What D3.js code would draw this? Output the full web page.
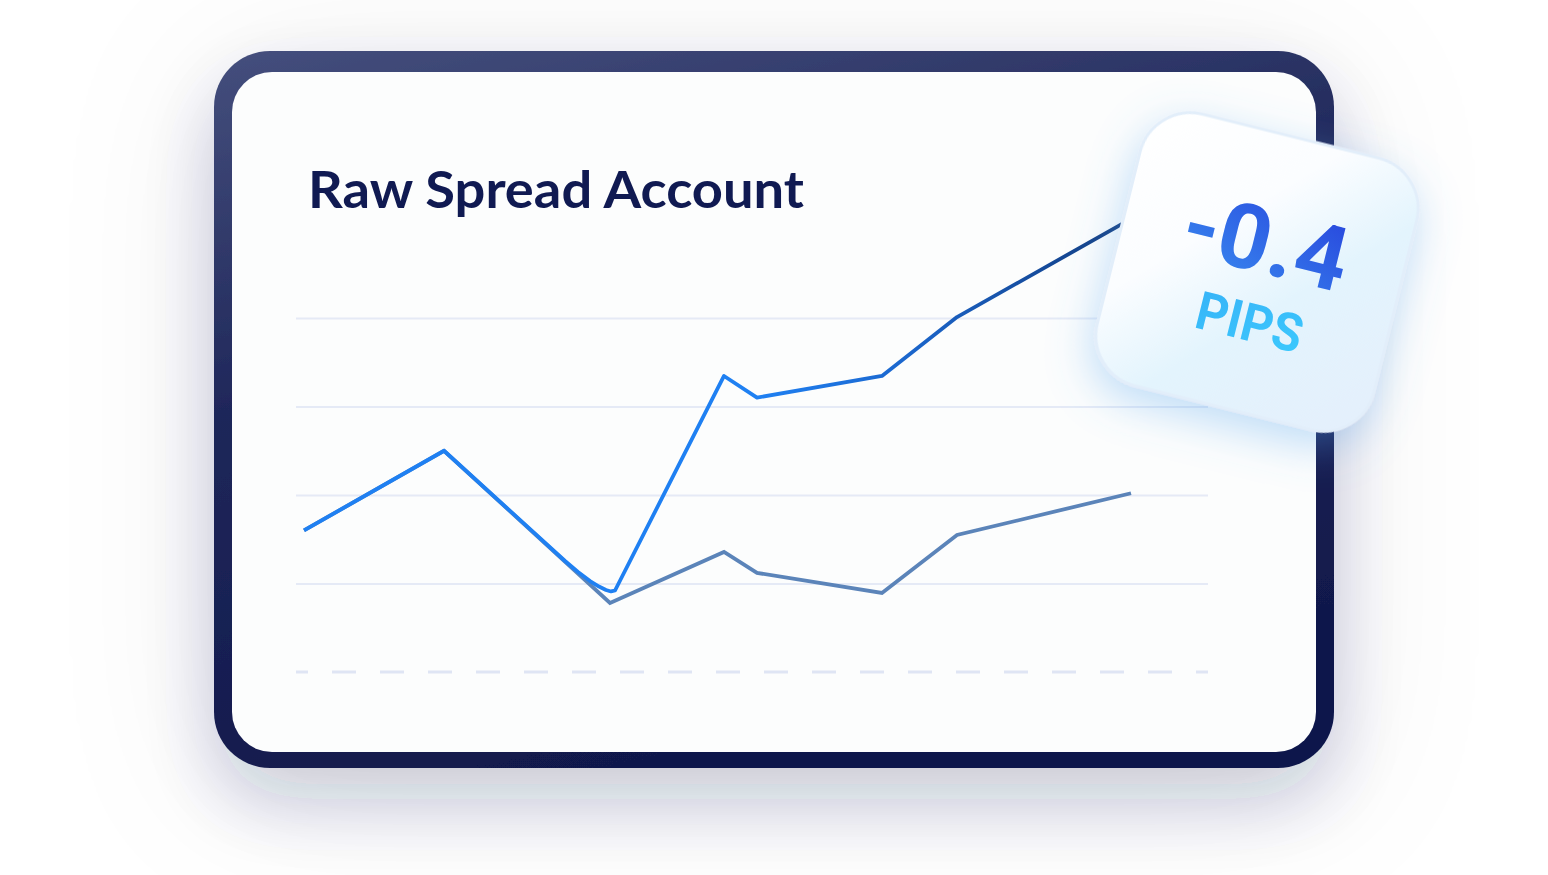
<!DOCTYPE html>
<html>
<head>
<meta charset="utf-8">
<script src="https://cdn.jsdelivr.net/npm/d3@7/dist/d3.min.js"></script>
<style>
  html, body { margin: 0; padding: 0; background: #ffffff; }
  svg { display: block; }
</style>
</head>
<body>
<svg id="chart" width="1548" height="875"></svg>
<script>
// ---------- data ----------
const titleText = "Raw Spread Account";
const badgeValue = "-0.4";
const badgeUnit = "PIPS";

// x positions (time units 0..100), y values (0..4 grid units)
const blueX = [0.88, 16.23, 29.50, 30.92, 32.24, 33.22, 33.99, 34.54, 34.98, 46.93, 50.55, 64.25, 72.48, 91.56];
const blueY = [1.60, 2.50, 1.254, 1.130, 1.028, 0.966, 0.927, 0.910, 0.921, 3.345, 3.10, 3.345, 4.01, 5.12];
const greyX = [0.88, 16.23, 34.43, 46.93, 50.55, 64.25, 72.48, 91.56];
const greyY = [1.60, 2.50, 0.78, 1.356, 1.12, 0.893, 1.548, 2.02];
const gridValues = [1, 2, 3, 4];
const baselineValue = 0;

// ---------- drawing ----------
const svg = d3.select("#chart");
const defs = svg.append("defs");

// frame shadow (manual, very diffuse)
const fs = defs.append("filter").attr("id", "frameShadow")
  .attr("filterUnits", "userSpaceOnUse")
  .attr("x", -200).attr("y", -200).attr("width", 1948).attr("height", 1300);
fs.append("feGaussianBlur").attr("in", "SourceAlpha").attr("stdDeviation", 38).attr("result", "b1");
fs.append("feOffset").attr("in", "b1").attr("dx", 0).attr("dy", 34).attr("result", "o1");
fs.append("feFlood").attr("flood-color", "#20255c").attr("flood-opacity", 0.2).attr("result", "c1");
fs.append("feComposite").attr("in", "c1").attr("in2", "o1").attr("operator", "in").attr("result", "s1");
fs.append("feGaussianBlur").attr("in", "SourceAlpha").attr("stdDeviation", 80).attr("result", "b2");
fs.append("feOffset").attr("in", "b2").attr("dx", 0).attr("dy", 20).attr("result", "o2");
fs.append("feFlood").attr("flood-color", "#20255c").attr("flood-opacity", 0.08).attr("result", "c2");
fs.append("feComposite").attr("in", "c2").attr("in2", "o2").attr("operator", "in").attr("result", "s2");
const fm = fs.append("feMerge");
fm.append("feMergeNode").attr("in", "s2");
fm.append("feMergeNode").attr("in", "s1");
fm.append("feMergeNode").attr("in", "SourceGraphic");

// frame gradient
const fg = defs.append("linearGradient").attr("id", "frameGrad")
  .attr("x1", 0).attr("y1", 0).attr("x2", 0.35).attr("y2", 1);
fg.append("stop").attr("offset", 0).attr("stop-color", "#454f7d");
fg.append("stop").attr("offset", 0.45).attr("stop-color", "#1f275a");
fg.append("stop").attr("offset", 1).attr("stop-color", "#11194c");

// blue line gradient
const bg = defs.append("linearGradient").attr("id", "blueGrad")
  .attr("gradientUnits", "userSpaceOnUse")
  .attr("x1", 760).attr("y1", 0).attr("x2", 1130).attr("y2", 0);
bg.append("stop").attr("offset", 0).attr("stop-color", "#1f80f2");
bg.append("stop").attr("offset", 0.4).attr("stop-color", "#1b66cc");
bg.append("stop").attr("offset", 1).attr("stop-color", "#123a7c");

// badge gradients & shadow
const bfill = defs.append("linearGradient").attr("id", "badgeFill")
  .attr("x1", 0).attr("y1", 0).attr("x2", 1).attr("y2", 1);
bfill.append("stop").attr("offset", 0).attr("stop-color", "#ffffff");
bfill.append("stop").attr("offset", 0.35).attr("stop-color", "#fbfdff");
bfill.append("stop").attr("offset", 0.6).attr("stop-color", "#e3f4fd");
bfill.append("stop").attr("offset", 1).attr("stop-color", "#e4effc");

const bsh = defs.append("filter").attr("id", "badgeShadow")
  .attr("x", "-40%").attr("y", "-40%").attr("width", "180%").attr("height", "190%");
bsh.append("feDropShadow").attr("dx", 0).attr("dy", 14).attr("stdDeviation", 22)
  .attr("flood-color", "#5aa8ee").attr("flood-opacity", 0.38);

const numGrad = defs.append("linearGradient").attr("id", "numGrad")
  .attr("x1", 0).attr("y1", 1).attr("x2", 0.6).attr("y2", 0);
numGrad.append("stop").attr("offset", 0).attr("stop-color", "#3a8ff1");
numGrad.append("stop").attr("offset", 1).attr("stop-color", "#2a4edf");

const unitGrad = defs.append("linearGradient").attr("id", "unitGrad")
  .attr("x1", 0).attr("y1", 0).attr("x2", 1).attr("y2", 1);
unitGrad.append("stop").attr("offset", 0).attr("stop-color", "#37b2f7");
unitGrad.append("stop").attr("offset", 1).attr("stop-color", "#3ccbfe");

// ---------- frame ----------
svg.append("rect")
  .attr("x", 214).attr("y", 51).attr("width", 1120).attr("height", 717)
  .attr("rx", 56).attr("ry", 56)
  .attr("fill", "url(#frameGrad)")
  .attr("filter", "url(#frameShadow)");
svg.append("rect")
  .attr("x", 232).attr("y", 72).attr("width", 1084).attr("height", 680)
  .attr("rx", 40).attr("ry", 40)
  .attr("fill", "#fcfdfd");

// title
svg.append("text")
  .attr("x", 308).attr("y", 208)
  .attr("font-family", "Lato, 'Open Sans', sans-serif")
  .attr("font-weight", 700)
  .attr("font-size", 51)
  .attr("fill", "#101a52")
  .attr("textLength", 496)
  .attr("lengthAdjust", "spacingAndGlyphs")
  .text(titleText);

// ---------- scales ----------
const x = d3.scaleLinear().domain([0, 100]).range([296, 1208]);
const y = d3.scaleLinear().domain([0, 4]).range([672, 318]);

// gridlines via axis
const gridAxis = d3.axisLeft(y).tickValues(gridValues).tickSize(-(x.range()[1] - x.range()[0])).tickFormat("");
const gridG = svg.append("g").attr("transform", `translate(${x.range()[0]},0)`).call(gridAxis);
gridG.select(".domain").remove();
gridG.selectAll(".tick line").attr("stroke", "#e5eaf6").attr("stroke-width", 2);

// dashed baseline
svg.append("line")
  .attr("x1", x.range()[0]).attr("x2", x.range()[1])
  .attr("y1", y(baselineValue)).attr("y2", y(baselineValue))
  .attr("stroke", "#dfe5f4").attr("stroke-width", 3)
  .attr("stroke-dasharray", "24 24").attr("stroke-dashoffset", 12);

// lines
const line = d3.line().x(d => x(d[0])).y(d => y(d[1])).curve(d3.curveLinear);
const greyData = greyX.map((v, i) => [v, greyY[i]]);
const blueData = blueX.map((v, i) => [v, blueY[i]]);

svg.append("path").datum(greyData)
  .attr("d", line)
  .attr("fill", "none")
  .attr("stroke", "#5b84b9")
  .attr("stroke-width", 3.8)
  .attr("stroke-linejoin", "miter");

svg.append("path").datum(blueData)
  .attr("d", line)
  .attr("fill", "none")
  .attr("stroke", "url(#blueGrad)")
  .attr("stroke-width", 3.8)
  .attr("stroke-linejoin", "round");

// ---------- badge ----------
const badge = svg.append("g").attr("transform", "translate(1257,272) rotate(14)");
badge.append("rect")
  .attr("x", -142.5).attr("y", -140).attr("width", 285).attr("height", 280)
  .attr("rx", 52).attr("ry", 52)
  .attr("fill", "url(#badgeFill)")
  .attr("stroke", "#e2eefa").attr("stroke-width", 3)
  .attr("filter", "url(#badgeShadow)");

badge.append("text")
  .attr("x", 1.5).attr("y", 0)
  .attr("text-anchor", "middle")
  .attr("font-family", "Roboto, Inter, sans-serif")
  .attr("font-weight", 700)
  .attr("font-size", 90)
  .attr("fill", "url(#numGrad)")
  .attr("textLength", 167)
  .attr("lengthAdjust", "spacingAndGlyphs")
  .text(badgeValue);

badge.append("text")
  .attr("x", 5).attr("y", 69)
  .attr("text-anchor", "middle")
  .attr("font-family", "Roboto, Inter, sans-serif")
  .attr("font-weight", 700)
  .attr("font-size", 53)
  .attr("fill", "url(#unitGrad)")
  .attr("textLength", 108)
  .attr("lengthAdjust", "spacingAndGlyphs")
  .text(badgeUnit);
</script>
</body>
</html>
